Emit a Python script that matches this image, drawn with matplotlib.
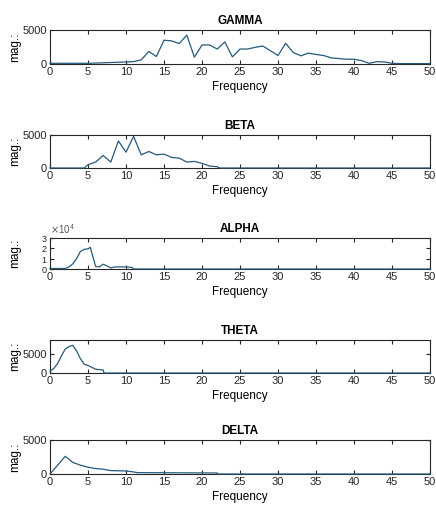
import matplotlib
matplotlib.use("Agg")
import matplotlib.pyplot as plt
from matplotlib.ticker import ScalarFormatter

plt.rcParams['font.family'] = ['Liberation Sans Narrow', 'Liberation Sans', 'DejaVu Sans']

# ---------------- data ---------------- #

gamma_f = [0, 5, 10, 11, 12, 13, 14, 15, 16, 17, 18, 19, 20, 21, 22, 23, 24, 25,
           26, 27, 28, 29, 30, 31, 32, 33, 34, 35, 36, 37, 38, 39, 40, 41, 42,
           43, 44, 45, 46, 50]
gamma_mag = [100, 100, 300, 350, 600, 1850, 1100, 3500, 3400, 3000, 4250, 1000,
             2800, 2800, 2200, 3250, 1050, 2200, 2200, 2450, 2650, 1950, 1250,
             3050, 1700, 1200, 1600, 1400, 1250, 900, 800, 700, 700, 500, 100,
             350, 300, 100, 60, 60]

beta_f = [0, 4.5, 5, 6, 7, 8, 9, 10, 11, 12, 13, 14, 15, 16, 17, 18, 19, 20,
          21, 22, 22.3, 50]
beta_mag = [0, 0, 500, 900, 1900, 900, 4100, 2400, 4800, 2000, 2500, 2000,
            2100, 1600, 1500, 900, 1000, 700, 300, 200, 0, 0]

alpha_f = [0, 2, 2.5, 3, 3.5, 4, 4.5, 5, 5.3, 6, 6.5, 7, 7.5, 8, 8.5, 10,
           10.8, 11, 50]
alpha_mag = [500, 500, 2000, 5000, 10000, 17000, 19000, 19500, 21000, 2500,
             2000, 4600, 3000, 1000, 2000, 2000, 1500, 0, 0]

theta_f = [0, 0.5, 1, 1.5, 2, 2.5, 3, 3.5, 4, 4.5, 5, 5.5, 6, 7, 7.1, 50]
theta_mag = [500, 1200, 2500, 4500, 6300, 7000, 7300, 5800, 3800, 2300, 2000,
             1500, 1000, 800, 0, 0]

delta_f = [0, 2, 3, 4, 5, 6, 7, 8, 10, 11, 11.5, 22, 22.1, 50]
delta_mag = [0, 2600, 1700, 1300, 1000, 800, 700, 500, 450, 300, 200, 150, 0, 0]

titles = ["GAMMA", "BETA", "ALPHA", "THETA", "DELTA"]
freqs = [gamma_f, beta_f, alpha_f, theta_f, delta_f]
mags = [gamma_mag, beta_mag, alpha_mag, theta_mag, delta_mag]
ylims = [(0, 5000), (0, 5000), (0, 30000), (0, 8700), (0, 5000)]
yticks = [[0, 5000], [0, 5000], [0, 10000, 20000, 30000], [0, 5000], [0, 5000]]

# axes boxes in pixels: (top, bottom)
boxes = [(30, 64), (135, 168), (238, 269), (340, 373), (440, 474)]

W, H = 436, 519
fig = plt.figure(figsize=(W / 100, H / 100), dpi=100)

for i in range(5):
    top, bot = boxes[i]
    ax = fig.add_axes([50 / W, 1 - bot / H, 380 / W, (bot - top) / H])
    ax.plot(freqs[i], mags[i], color="#245a7c", lw=0.9, clip_on=False, zorder=3)
    ax.set_xlim(0, 50)
    ax.set_ylim(*ylims[i])
    ax.set_xticks(range(0, 51, 5))
    ax.set_yticks(yticks[i])
    ax.tick_params(direction="in", length=3, width=0.8, top=True, right=True,
                   labelsize=8, pad=2, colors="#262626")
    for s in ax.spines.values():
        s.set_linewidth(0.8)
        s.set_color("#262626")
    if i == 2:
        # alpha panel: x10^4 axis, small stacked tick labels
        fmt = ScalarFormatter(useMathText=True)
        fmt.set_powerlimits((0, 0))
        ax.yaxis.set_major_formatter(fmt)
        ax.yaxis.get_offset_text().set_fontsize(7)
        ax.yaxis.get_offset_text().set_color("#555555")
        ax.tick_params(axis="y", labelsize=6.5, pad=1.5)
    ax.set_title(titles[i], fontsize=8.5, fontweight="bold", pad=4)
    ax.set_xlabel("Frequency", fontsize=8.5, labelpad=3)
    ax.set_ylabel("mag.:", fontsize=8.5)
    ax.yaxis.set_label_coords(-0.075, 0.5)

fig.savefig("out.png", dpi=100)
